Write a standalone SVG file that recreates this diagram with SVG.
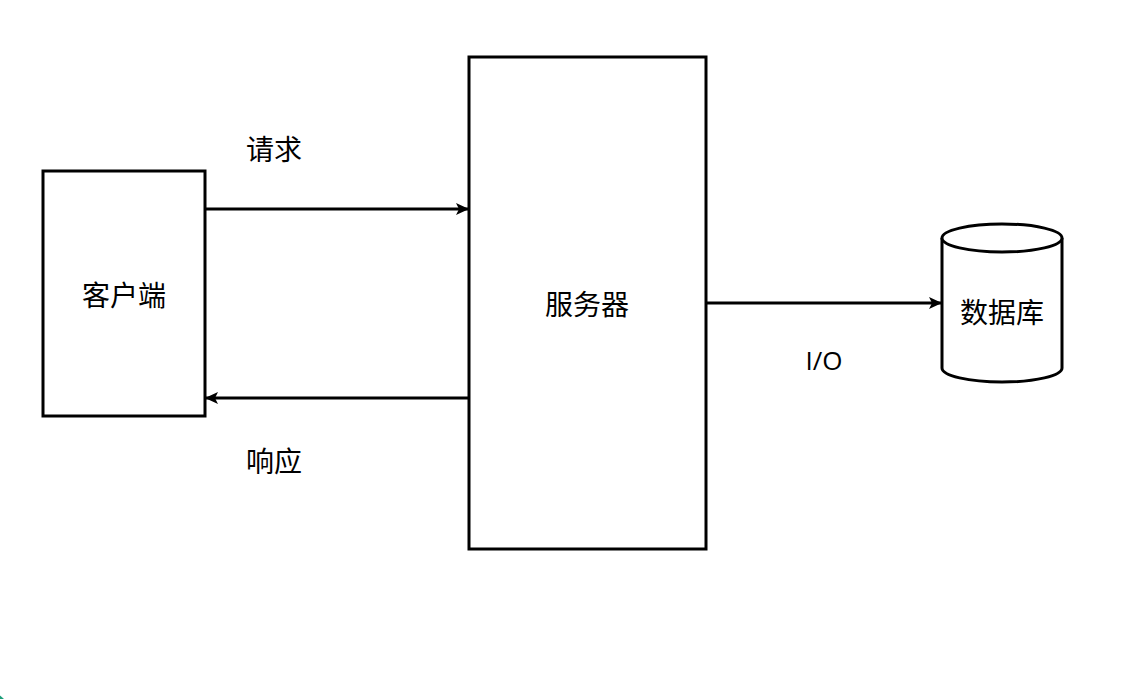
<svg xmlns="http://www.w3.org/2000/svg" width="1129" height="699" viewBox="0 0 1129 699">
<style>
.box{fill:#fff;stroke:#000;stroke-width:3}
.lbl{font-family:"Noto Sans CJK SC","Liberation Sans",sans-serif;font-size:28px;fill:#000;text-anchor:middle;dominant-baseline:central}
.con{stroke:#000;stroke-width:3;fill:none}
</style>
<defs>
<marker id="ah" markerWidth="13" markerHeight="12" refX="12" refY="6" orient="auto" markerUnits="userSpaceOnUse">
<path d="M0,0 L13,6 L0,12 L3,6 Z" fill="#000"/>
</marker>
</defs>
<rect width="1129" height="699" fill="#fff"/>
<circle cx="-22" cy="724" r="36" fill="#1d9e7a"/>
<g id="client">
<rect class="box" x="43" y="171" width="162" height="245"/>
<text class="lbl" x="124" y="294">客户端</text>
</g>
<g id="server">
<rect class="box" x="469" y="57" width="237" height="492"/>
<text class="lbl" x="587" y="303">服务器</text>
</g>
<g id="database">
<path class="box" d="M942,238 L942,368 A60,14 0 0 0 1062,368 L1062,238"/>
<ellipse class="box" cx="1002" cy="238" rx="60" ry="14"/>
<text class="lbl" x="1002" y="311">数据库</text>
</g>
<g id="connectors">
<line class="con" x1="205" y1="209" x2="468" y2="209" marker-end="url(#ah)"/>
<line class="con" x1="469" y1="398" x2="206" y2="398" marker-end="url(#ah)"/>
<line class="con" x1="706" y1="303" x2="941" y2="303" marker-end="url(#ah)"/>
<text class="lbl" x="274" y="148">请求</text>
<text class="lbl" x="274" y="460">响应</text>
<text class="lbl" x="824" y="360" style="font-family:'Open Sans','Liberation Sans',sans-serif;font-size:26px">I/O</text>
</g>
</svg>
